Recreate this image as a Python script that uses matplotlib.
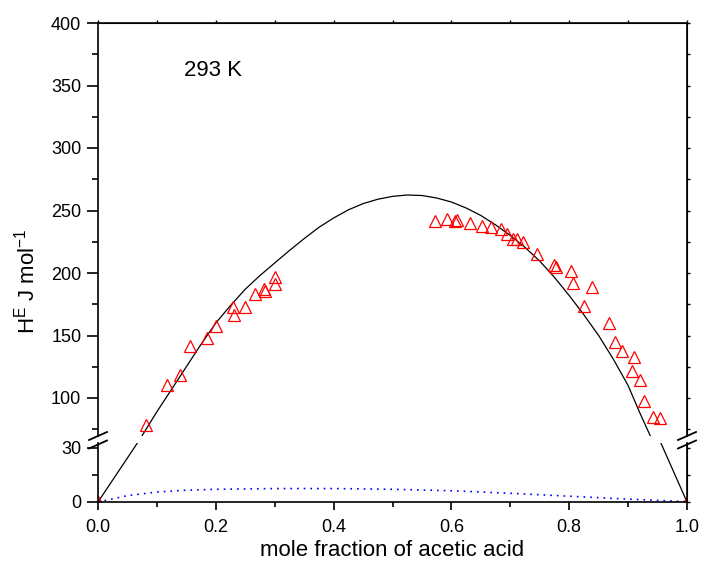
import matplotlib
matplotlib.use("Agg")
import matplotlib.pyplot as plt
from matplotlib.ticker import MultipleLocator, FixedLocator, FormatStrFormatter
from matplotlib.lines import Line2D

plt.rcParams['font.family'] = ['Liberation Sans', 'DejaVu Sans']
plt.rcParams['mathtext.fontset'] = 'custom'
plt.rcParams['mathtext.rm'] = 'Liberation Sans'
plt.rcParams['mathtext.it'] = 'Liberation Sans:italic'

# experimental points (mole fraction, H^E / J mol-1)
exp_x = [0.0, 0.0815, 0.117, 0.140, 0.157, 0.185, 0.201, 0.229, 0.231, 0.249, 0.266,
         0.281, 0.284, 0.301, 0.301,
         0.572, 0.593, 0.606, 0.610, 0.631, 0.652, 0.667, 0.684, 0.694, 0.705, 0.711,
         0.721, 0.745, 0.774, 0.778, 0.803, 0.806, 0.825, 0.838, 0.868, 0.878, 0.889,
         0.907, 0.910, 0.920, 0.927, 0.942, 0.954, 1.0]
exp_y = [0.0, 78.4, 110.6, 118.2, 141.8, 147.7, 157.6, 172.5, 166.4, 172.8, 183.2,
         187.2, 185.8, 196.6, 191.2,
         241.8, 242.9, 242.0, 242.4, 239.8, 237.8, 236.8, 235.0, 231.0, 227.2, 227.0,
         224.8, 215.2, 206.2, 204.6, 201.8, 191.8, 173.3, 188.5, 159.7, 145.0, 137.8,
         121.8, 133.0, 114.4, 97.6, 84.6, 83.8, 0.0]

# fitted curve
fit_x = [0.0, 0.07, 0.075, 0.1, 0.125, 0.15, 0.175, 0.2, 0.225, 0.25, 0.275, 0.3,
         0.325, 0.35, 0.375, 0.4, 0.425, 0.45, 0.475, 0.5, 0.525, 0.55, 0.575, 0.6,
         0.625, 0.65, 0.675, 0.7, 0.725, 0.75, 0.775, 0.8, 0.825, 0.85, 0.875, 0.9,
         0.92, 0.937, 0.94, 0.955, 1.0]
fit_y = [0.0, 34.0, 70.0, 89.0, 107.0, 125.0, 143.0, 160.0, 174.0, 187.0, 198.0, 208.0,
         218.0, 227.5, 236.5, 244.0, 250.5, 255.5, 259.0, 261.3, 262.4, 262.0, 260.0, 256.8,
         252.0, 246.0, 238.5, 230.0, 220.5, 209.5, 196.5, 182.0, 166.5, 150.0, 131.0, 110.0,
         88.0, 70.4, 67.0, 33.0, 0.0]

# dotted blue curve (small contribution)
dot_x = [0.0, 0.05, 0.1, 0.15, 0.2, 0.3, 0.4, 0.5, 0.6, 0.7, 0.8, 0.9, 0.95, 1.0]
dot_y = [0.0, 3.5, 5.5, 6.5, 7.0, 7.4, 7.4, 7.0, 6.2, 4.8, 3.2, 1.6, 0.9, 0.2]

W, H = 703, 573
fig = plt.figure(figsize=(W / 100, H / 100), dpi=100)


def box(l, t, r, b):
    return [l / W, 1 - b / H, (r - l) / W, (b - t) / H]


ax_top = fig.add_axes(box(98, 23, 687, 435.5))
ax_bot = fig.add_axes(box(98, 443, 687, 502))

for ax in (ax_top, ax_bot):
    ax.plot(fit_x, fit_y, color='black', lw=0.9)
    ax.plot(dot_x, dot_y, color='blue', lw=1.2, linestyle=(0, (1, 3)))
    ax.plot(exp_x, exp_y, linestyle='none', marker='^', ms=9, mfc='none',
            mec='red', mew=0.9)
    ax.set_xlim(0, 1)
    for s in ax.spines.values():
        s.set_linewidth(1.2)

ax_top.set_ylim(70, 400)
ax_bot.set_ylim(0, 32.5)
ax_top.spines['bottom'].set_visible(False)
ax_bot.spines['top'].set_visible(False)

top_major = [100, 150, 200, 250, 300, 350, 400]
top_minor = [75, 125, 175, 225, 275, 325, 375]

# upper panel ticks
ax_top.yaxis.set_major_locator(FixedLocator(top_major))
ax_top.yaxis.set_minor_locator(FixedLocator(top_minor))
ax_top.tick_params(axis='x', which='both', bottom=False, labelbottom=False, top=False)
ax_top.tick_params(axis='y', which='both', right=False, direction='out', width=1.2,
                   labelsize=13, pad=4)
ax_top.tick_params(axis='y', which='major', length=8)
ax_top.tick_params(axis='y', which='minor', length=4)

# lower panel ticks
ax_bot.yaxis.set_major_locator(FixedLocator([0, 30]))
ax_bot.yaxis.set_minor_locator(FixedLocator([15]))
ax_bot.xaxis.set_major_locator(MultipleLocator(0.2))
ax_bot.xaxis.set_minor_locator(MultipleLocator(0.1))
ax_bot.xaxis.set_major_formatter(FormatStrFormatter('%.1f'))
ax_bot.tick_params(axis='y', which='both', right=False, direction='out', width=1.2,
                   labelsize=13, pad=4)
ax_bot.tick_params(axis='y', which='major', length=8)
ax_bot.tick_params(axis='y', which='minor', length=4)
ax_bot.tick_params(axis='x', which='both', top=False, direction='out', width=1.2,
                   labelsize=13, pad=6)
ax_bot.tick_params(axis='x', which='major', length=6)
ax_bot.tick_params(axis='x', which='minor', length=3.5)

# tiny ticks on top and right
sec_top = ax_top.secondary_xaxis('top')
sec_top.xaxis.set_major_locator(MultipleLocator(0.1))
sec_top.tick_params(length=2, width=1, direction='out', labeltop=False)
for ax, ticks in ((ax_top, top_major + top_minor), (ax_bot, [0, 15, 30])):
    sec = ax.secondary_yaxis('right')
    sec.yaxis.set_major_locator(FixedLocator(ticks))
    sec.tick_params(length=2, width=1, direction='out', labelright=False)

# break marks
for xc in (98, 687):
    for yc in (436, 444.5):
        fig.add_artist(Line2D([(xc - 9) / W, (xc + 9) / W],
                              [1 - (yc + 4) / H, 1 - (yc - 4) / H],
                              color='black', lw=1.3))

ax_top.text(0.146, 361.6, '293 K', fontsize=16, va='center', ha='left')
fig.text(392 / W, 1 - 550 / H, 'mole fraction of acetic acid', fontsize=16,
         ha='center', va='center')
fig.text(27 / W, 1 - 281 / H, r'H$^{\rm E}$ J mol$^{\rm{-}1}$', fontsize=16,
         rotation=90, ha='center', va='center')

fig.savefig('out.png', dpi=100)
